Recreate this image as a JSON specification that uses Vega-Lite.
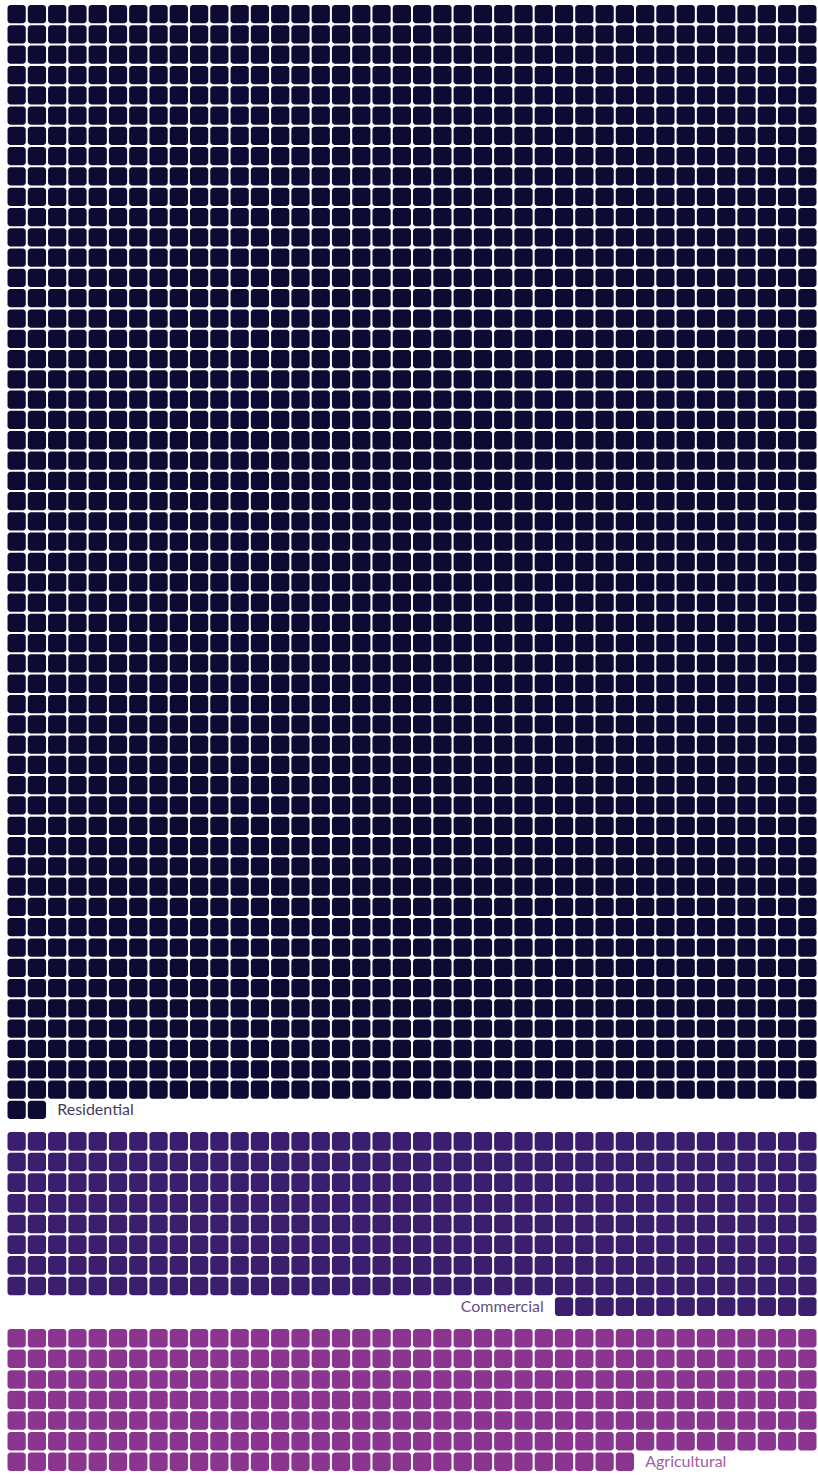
{
  "$schema": "https://vega.github.io/schema/vega-lite/v6.json",
  "autosize": {"type": "pad"},
  "padding": {"left": 6.5, "top": 4, "right": 0, "bottom": 0},
  "spacing": 11,
  "background": "white",
  "config": {"view": {"stroke": null}, "font": "Lato"},
  "datasets": {
    "slots": [
      {"cells": 40, "slot": [0,1,2,3,4,5,6,7,8,9,10,11,12,13,14,15,16,17,18,19,20,21,22,23,24,25,26,27,28,29,30,31,32,33,34,35,36,37,38,39]},
      {"cells": 2, "slot": [0,1]},
      {"cells": 13, "slot": [0,1,2,3,4,5,6,7,8,9,10,11,12]},
      {"cells": 31, "slot": [0,1,2,3,4,5,6,7,8,9,10,11,12,13,14,15,16,17,18,19,20,21,22,23,24,25,26,27,28,29,30]}
    ],
    "rows": [
      {"category": "Residential", "row": 0, "cells": 40},
      {"category": "Residential", "row": 1, "cells": 40},
      {"category": "Residential", "row": 2, "cells": 40},
      {"category": "Residential", "row": 3, "cells": 40},
      {"category": "Residential", "row": 4, "cells": 40},
      {"category": "Residential", "row": 5, "cells": 40},
      {"category": "Residential", "row": 6, "cells": 40},
      {"category": "Residential", "row": 7, "cells": 40},
      {"category": "Residential", "row": 8, "cells": 40},
      {"category": "Residential", "row": 9, "cells": 40},
      {"category": "Residential", "row": 10, "cells": 40},
      {"category": "Residential", "row": 11, "cells": 40},
      {"category": "Residential", "row": 12, "cells": 40},
      {"category": "Residential", "row": 13, "cells": 40},
      {"category": "Residential", "row": 14, "cells": 40},
      {"category": "Residential", "row": 15, "cells": 40},
      {"category": "Residential", "row": 16, "cells": 40},
      {"category": "Residential", "row": 17, "cells": 40},
      {"category": "Residential", "row": 18, "cells": 40},
      {"category": "Residential", "row": 19, "cells": 40},
      {"category": "Residential", "row": 20, "cells": 40},
      {"category": "Residential", "row": 21, "cells": 40},
      {"category": "Residential", "row": 22, "cells": 40},
      {"category": "Residential", "row": 23, "cells": 40},
      {"category": "Residential", "row": 24, "cells": 40},
      {"category": "Residential", "row": 25, "cells": 40},
      {"category": "Residential", "row": 26, "cells": 40},
      {"category": "Residential", "row": 27, "cells": 40},
      {"category": "Residential", "row": 28, "cells": 40},
      {"category": "Residential", "row": 29, "cells": 40},
      {"category": "Residential", "row": 30, "cells": 40},
      {"category": "Residential", "row": 31, "cells": 40},
      {"category": "Residential", "row": 32, "cells": 40},
      {"category": "Residential", "row": 33, "cells": 40},
      {"category": "Residential", "row": 34, "cells": 40},
      {"category": "Residential", "row": 35, "cells": 40},
      {"category": "Residential", "row": 36, "cells": 40},
      {"category": "Residential", "row": 37, "cells": 40},
      {"category": "Residential", "row": 38, "cells": 40},
      {"category": "Residential", "row": 39, "cells": 40},
      {"category": "Residential", "row": 40, "cells": 40},
      {"category": "Residential", "row": 41, "cells": 40},
      {"category": "Residential", "row": 42, "cells": 40},
      {"category": "Residential", "row": 43, "cells": 40},
      {"category": "Residential", "row": 44, "cells": 40},
      {"category": "Residential", "row": 45, "cells": 40},
      {"category": "Residential", "row": 46, "cells": 40},
      {"category": "Residential", "row": 47, "cells": 40},
      {"category": "Residential", "row": 48, "cells": 40},
      {"category": "Residential", "row": 49, "cells": 40},
      {"category": "Residential", "row": 50, "cells": 40},
      {"category": "Residential", "row": 51, "cells": 40},
      {"category": "Residential", "row": 52, "cells": 40},
      {"category": "Residential", "row": 53, "cells": 40},
      {"category": "Residential", "row": 54, "cells": 2},
      {"category": "Commercial", "row": 0, "cells": 40},
      {"category": "Commercial", "row": 1, "cells": 40},
      {"category": "Commercial", "row": 2, "cells": 40},
      {"category": "Commercial", "row": 3, "cells": 40},
      {"category": "Commercial", "row": 4, "cells": 40},
      {"category": "Commercial", "row": 5, "cells": 40},
      {"category": "Commercial", "row": 6, "cells": 40},
      {"category": "Commercial", "row": 7, "cells": 40},
      {"category": "Commercial", "row": 8, "cells": 13},
      {"category": "Agricultural", "row": 0, "cells": 40},
      {"category": "Agricultural", "row": 1, "cells": 40},
      {"category": "Agricultural", "row": 2, "cells": 40},
      {"category": "Agricultural", "row": 3, "cells": 40},
      {"category": "Agricultural", "row": 4, "cells": 40},
      {"category": "Agricultural", "row": 5, "cells": 40},
      {"category": "Agricultural", "row": 6, "cells": 31}
    ]
  },
  "vconcat": [
    {
      "width": 811,
      "height": 1116,
      "data": {"name": "rows"},
      "transform": [
        {"filter": {"field": "category", "equal": "Residential"}},
        {"lookup": "cells", "from": {"data": {"name": "slots"}, "key": "cells", "fields": ["slot"]}},
        {"flatten": ["slot"]},
        {"calculate": "datum.row % 2 == 0 ? datum.slot : 39 - datum.slot", "as": "col"}
      ],
      "encoding": {
        "y": {"field": "row", "type": "ordinal", "axis": null, "scale": {"paddingInner": 0.1, "paddingOuter": 0.05}}
      },
      "layer": [
        {
          "mark": {"type": "rect", "cornerRadius": 3, "color": "#0d0a33"},
          "encoding": {
            "x": {"field": "col", "type": "ordinal", "axis": null, "scale": {"domain": [0,1,2,3,4,5,6,7,8,9,10,11,12,13,14,15,16,17,18,19,20,21,22,23,24,25,26,27,28,29,30,31,32,33,34,35,36,37,38,39], "paddingInner": 0.1, "paddingOuter": 0.05}}
          }
        },
        {
          "transform": [
            {"joinaggregate": [{"op": "max", "field": "row", "as": "lastRow"}]},
            {"filter": "datum.row == datum.lastRow && datum.slot == datum.cells - 1"},
            {"calculate": "datum.col + 1", "as": "labelCol"}
          ],
          "mark": {"type": "text", "align": "left", "baseline": "middle", "fontSize": 16, "color": "#0d0a33", "opacity": 0.8},
          "encoding": {
            "x": {"field": "labelCol", "type": "ordinal", "axis": null},
            "text": {"field": "category"}
          }
        }
      ]
    },
    {
      "width": 811,
      "height": 186,
      "data": {"name": "rows"},
      "transform": [
        {"filter": {"field": "category", "equal": "Commercial"}},
        {"lookup": "cells", "from": {"data": {"name": "slots"}, "key": "cells", "fields": ["slot"]}},
        {"flatten": ["slot"]},
        {"calculate": "datum.row % 2 == 0 ? 39 - datum.slot : datum.slot", "as": "col"}
      ],
      "encoding": {
        "y": {"field": "row", "type": "ordinal", "axis": null, "scale": {"paddingInner": 0.1, "paddingOuter": 0.05}}
      },
      "layer": [
        {
          "mark": {"type": "rect", "cornerRadius": 3, "color": "#3b1e6e"},
          "encoding": {
            "x": {"field": "col", "type": "ordinal", "axis": null, "scale": {"domain": [0,1,2,3,4,5,6,7,8,9,10,11,12,13,14,15,16,17,18,19,20,21,22,23,24,25,26,27,28,29,30,31,32,33,34,35,36,37,38,39], "paddingInner": 0.1, "paddingOuter": 0.05}}
          }
        },
        {
          "transform": [
            {"joinaggregate": [{"op": "max", "field": "row", "as": "lastRow"}]},
            {"filter": "datum.row == datum.lastRow && datum.slot == datum.cells - 1"},
            {"calculate": "datum.col - 1", "as": "labelCol"}
          ],
          "mark": {"type": "text", "align": "right", "baseline": "middle", "fontSize": 16, "color": "#3b1e6e", "opacity": 0.8},
          "encoding": {
            "x": {"field": "labelCol", "type": "ordinal", "axis": null},
            "text": {"field": "category"}
          }
        }
      ]
    },
    {
      "width": 811,
      "height": 144,
      "data": {"name": "rows"},
      "transform": [
        {"filter": {"field": "category", "equal": "Agricultural"}},
        {"lookup": "cells", "from": {"data": {"name": "slots"}, "key": "cells", "fields": ["slot"]}},
        {"flatten": ["slot"]},
        {"calculate": "datum.row % 2 == 0 ? datum.slot : 39 - datum.slot", "as": "col"}
      ],
      "encoding": {
        "y": {"field": "row", "type": "ordinal", "axis": null, "scale": {"paddingInner": 0.1, "paddingOuter": 0.05}}
      },
      "layer": [
        {
          "mark": {"type": "rect", "cornerRadius": 3, "color": "#8b3591"},
          "encoding": {
            "x": {"field": "col", "type": "ordinal", "axis": null, "scale": {"domain": [0,1,2,3,4,5,6,7,8,9,10,11,12,13,14,15,16,17,18,19,20,21,22,23,24,25,26,27,28,29,30,31,32,33,34,35,36,37,38,39], "paddingInner": 0.1, "paddingOuter": 0.05}}
          }
        },
        {
          "transform": [
            {"joinaggregate": [{"op": "max", "field": "row", "as": "lastRow"}]},
            {"filter": "datum.row == datum.lastRow && datum.slot == datum.cells - 1"},
            {"calculate": "datum.col + 1", "as": "labelCol"}
          ],
          "mark": {"type": "text", "align": "left", "baseline": "middle", "fontSize": 16, "color": "#8b3591", "opacity": 0.8},
          "encoding": {
            "x": {"field": "labelCol", "type": "ordinal", "axis": null},
            "text": {"field": "category"}
          }
        }
      ]
    }
  ]
}
